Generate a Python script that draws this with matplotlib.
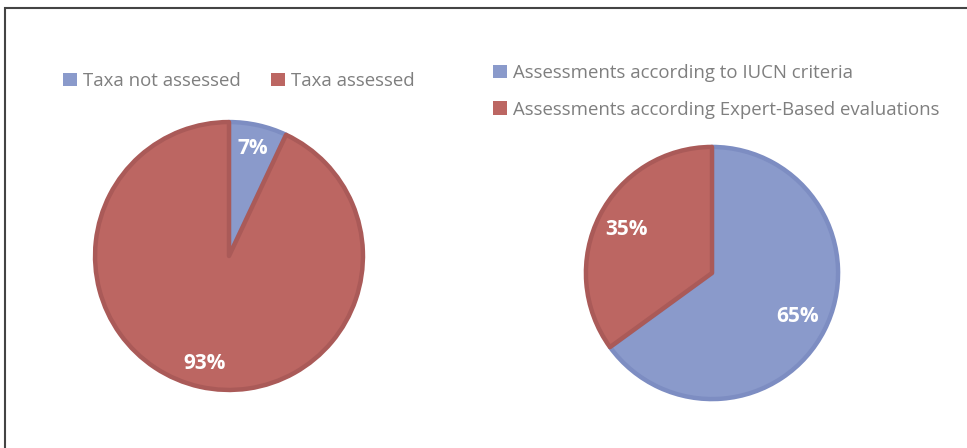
import matplotlib
matplotlib.use("Agg")
import matplotlib.pyplot as plt
from matplotlib.patches import Rectangle

W, H = 967, 448

left_labels = ["Taxa not assessed", "Taxa assessed"]
left_values = [7, 93]
right_labels = ["Assessments according to IUCN criteria",
                "Assessments according Expert-Based evaluations"]
right_values = [65, 35]

blue = "#8A9ACB"
red = "#BC6662"
blue_edge = "#7D8DC2"
red_edge = "#AA5A58"
text_gray = "#7F7F7F"

plt.rcParams['font.family'] = ['Open Sans', 'DejaVu Sans']

fig = plt.figure(figsize=(W / 100, H / 100), dpi=100)


def px_axes(x0, y0, w, h):
    return fig.add_axes([x0 / W, 1 - (y0 + h) / H, w / W, h / H])


def draw_pie(ax, values, pctdist):
    wedges, texts, autotexts = ax.pie(
        values, colors=[blue, red], startangle=90, counterclock=False,
        autopct=lambda p: f"{p:.0f}%", pctdistance=pctdist, radius=0.985,
        wedgeprops=dict(linewidth=3.2, joinstyle="round"),
        textprops=dict(color="white", fontsize=15, fontweight="bold"))
    wedges[0].set_edgecolor(blue_edge)
    wedges[1].set_edgecolor(red_edge)
    ax.set_xlim(-1, 1)
    ax.set_ylim(-1, 1)
    ax.set_aspect("equal")
    ax.axis("off")
    return wedges


axL = px_axes(93, 120, 272, 272)
wL = draw_pie(axL, left_values, 0.82)
axR = px_axes(584, 145, 256, 256)
wR = draw_pie(axR, right_values, 0.76)

legL = fig.legend(wL, left_labels, loc="upper left",
                  bbox_to_anchor=(63 / W, 1 - 72 / H), ncol=2, frameon=False,
                  fontsize=13.4, handlelength=0.75, handleheight=0.75,
                  handletextpad=0.3, columnspacing=1.67, labelcolor=text_gray,
                  borderaxespad=0, borderpad=0)
for h in legL.legend_handles:
    h.set_linewidth(0)

legR = fig.legend(wR, right_labels, loc="upper left",
                  bbox_to_anchor=(493 / W, 1 - 64 / H), ncol=1, frameon=False,
                  fontsize=13.4, handlelength=0.75, handleheight=0.75,
                  handletextpad=0.3, labelspacing=1.0, labelcolor=text_gray,
                  borderaxespad=0, borderpad=0)
for h in legR.legend_handles:
    h.set_linewidth(0)

fig.patches.append(Rectangle((4.5 / W, -0.1), 1.2, 1 - 8.5 / H + 0.1,
                             transform=fig.transFigure, fill=False,
                             edgecolor="#444444", linewidth=1.5))

fig.savefig("out.png", dpi=100)
